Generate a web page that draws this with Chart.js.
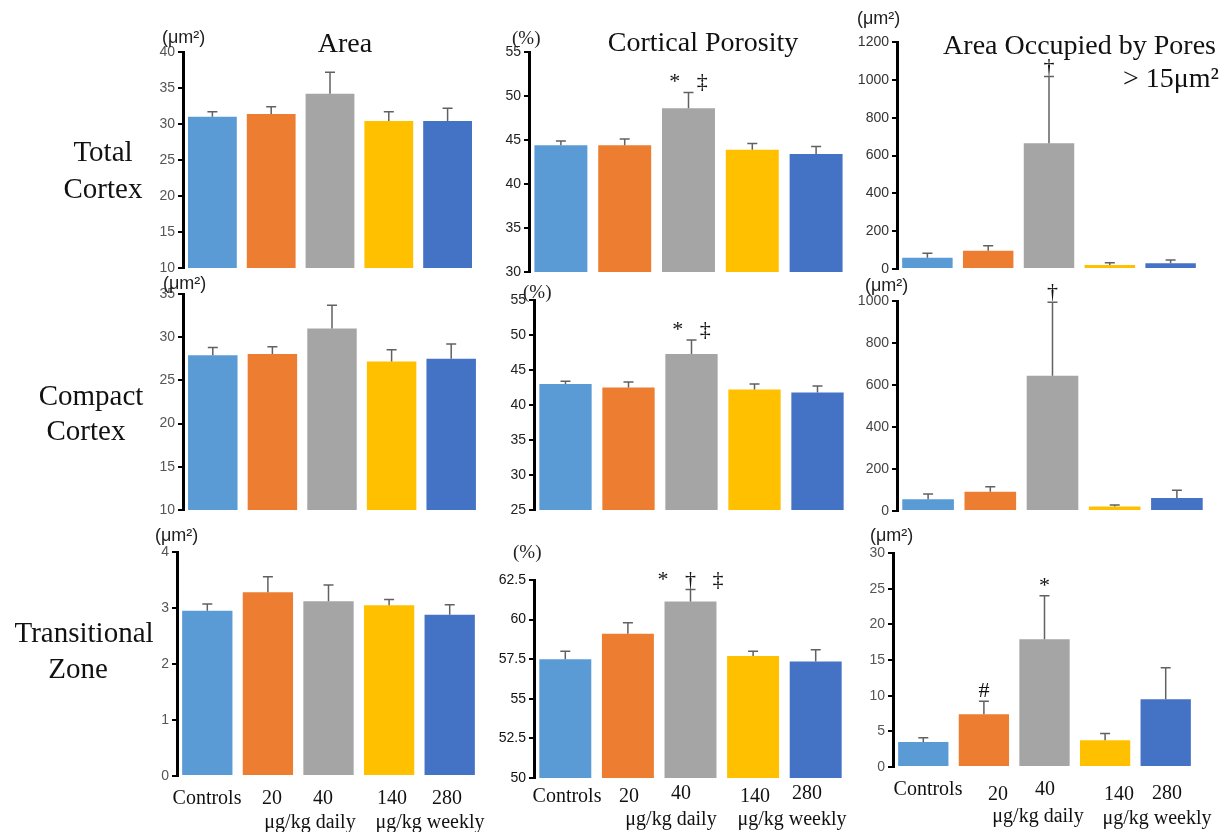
<!DOCTYPE html>
<html lang="en">
<head>
<meta charset="UTF-8">
<title>Cortical bone bar charts</title>
<script src="https://cdn.jsdelivr.net/npm/chart.js@4.4.0/dist/chart.umd.min.js"></script>
<style>
body{margin:0;width:1224px;height:832px;background:#fff;position:relative;overflow:hidden}
canvas{position:absolute}
.t{position:absolute;white-space:nowrap;font-family:"Liberation Serif",serif;color:#111;transform:translate(-50%,-50%)}
.r{position:absolute;white-space:nowrap;font-family:"Liberation Serif",serif;color:#111;transform:translate(-100%,-50%)}
.u{position:absolute;white-space:nowrap;font-family:"Liberation Sans",Arial,sans-serif;font-size:18px;color:#222;transform:translateY(-50%)}
.p{position:absolute;white-space:nowrap;font-family:"Liberation Serif",serif;font-size:19px;color:#222;transform:translateY(-50%)}
</style>
</head>
<body>
<script>
// groups (one bar each)
const groups = ['Controls', '20 µg/kg daily', '40 µg/kg daily', '140 µg/kg weekly', '280 µg/kg weekly'];
const colors = ['#5B9BD5', '#ED7D31', '#A5A5A5', '#FFC000', '#4472C4'];

// Total cortex
const totalArea = [31.0, 31.4, 34.2, 30.4, 30.4];
const totalAreaSD = [0.7, 1.0, 3.0, 1.3, 1.8];
const totalPorosity = [44.4, 44.4, 48.6, 43.9, 43.4];
const totalPorositySD = [0.5, 0.7, 1.8, 0.7, 0.85];
const totalPores = [60, 97, 665, 21, 30];
const totalPoresSD = [23, 26, 352, 12, 17];

// Compact cortex
const compactArea = [27.9, 28.05, 31.0, 27.2, 27.5];
const compactAreaSD = [0.9, 0.85, 2.7, 1.35, 1.7];
const compactPorosity = [43.0, 42.5, 47.3, 42.2, 41.8];
const compactPorositySD = [0.4, 0.8, 2.0, 0.8, 0.9];
const compactPores = [56, 92, 644, 21, 62];
const compactPoresSD = [25, 24, 350, 8, 37];

// Transitional zone
const transArea = [2.95, 3.28, 3.12, 3.05, 2.88];
const transAreaSD = [0.12, 0.28, 0.29, 0.10, 0.18];
const transPorosity = [57.5, 59.1, 61.15, 57.7, 57.35];
const transPorositySD = [0.5, 0.7, 0.75, 0.3, 0.75];
const transPores = [3.5, 7.4, 17.9, 3.75, 9.5];
const transPoresSD = [0.6, 1.8, 6.1, 0.95, 4.4];

// significance marks above bars
const noMarks = ['', '', '', '', ''];
const porosityMarks = ['', '', '*   \u2021', '', ''];
const poresMarks = ['', '', '\u2020', '', ''];
const transPorosityMarks = ['', '', '*   \u2020   \u2021', '', ''];
const transPoresMarks = ['', '#', '*', '', ''];

// y axis ranges [min, max, step]
const areaTicks = [10, 40, 5];
const porosityTicks = [30, 55, 5];
const poresTicks = [0, 1200, 200];
const compactAreaTicks = [10, 35, 5];
const compactPorosityTicks = [25, 55, 5];
const compactPoresTicks = [0, 1000, 200];
const transAreaTicks = [0, 4, 1];
const transPorosityTicks = [50, 62.5, 2.5];
const transPoresTicks = [0, 30, 5];

const panels = [
  {vals: totalArea, sd: totalAreaSD, marks: noMarks, t: areaTicks, ax: 183, top: 52, bot: 268, right: 477, tc: '#555'},
  {vals: totalPorosity, sd: totalPorositySD, marks: porosityMarks, t: porosityTicks, ax: 529, top: 52, bot: 272, right: 848, tc: '#222'},
  {vals: totalPores, sd: totalPoresSD, marks: poresMarks, t: poresTicks, ax: 897, top: 42, bot: 269, right: 1201, tc: '#333'},
  {vals: compactArea, sd: compactAreaSD, marks: noMarks, t: compactAreaTicks, ax: 183, top: 294, bot: 510, right: 481, tc: '#555'},
  {vals: compactPorosity, sd: compactPorositySD, marks: porosityMarks, t: compactPorosityTicks, ax: 534, top: 300, bot: 510, right: 849, tc: '#222'},
  {vals: compactPores, sd: compactPoresSD, marks: poresMarks, t: compactPoresTicks, ax: 897, top: 301, bot: 511, right: 1208, tc: '#444'},
  {vals: transArea, sd: transAreaSD, marks: noMarks, t: transAreaTicks, ax: 177, top: 552, bot: 776, right: 480, tc: '#555'},
  {vals: transPorosity, sd: transPorositySD, marks: transPorosityMarks, t: transPorosityTicks, ax: 534, top: 580, bot: 778, right: 847, tc: '#111'},
  {vals: transPores, sd: transPoresSD, marks: transPoresMarks, t: transPoresTicks, ax: 893, top: 553, bot: 767, right: 1196, tc: '#555'}
];

// error bars + marks, drawn through the y scale
const errorBars = {
  id: 'errorBars',
  afterDatasetsDraw(chart, args, opts) {
    const ctx = chart.ctx, y = chart.scales.y, meta = chart.getDatasetMeta(0);
    const vals = chart.data.datasets[0].data;
    ctx.save();
    meta.data.forEach((bar, i) => {
      const yTop = y.getPixelForValue(vals[i] + opts.sd[i]);
      ctx.strokeStyle = '#616161';
      ctx.lineWidth = 1.5;
      ctx.beginPath();
      ctx.moveTo(bar.x, bar.y);
      ctx.lineTo(bar.x, yTop);
      ctx.moveTo(bar.x - 5, yTop);
      ctx.lineTo(bar.x + 5, yTop);
      ctx.stroke();
      if (opts.marks[i]) {
        ctx.fillStyle = '#111';
        ctx.font = '22px "Liberation Serif"';
        ctx.textAlign = 'center';
        ctx.textBaseline = 'alphabetic';
        ctx.fillText(opts.marks[i], bar.x, yTop - 4);
      }
    });
    ctx.restore();
  }
};

panels.forEach(p => {
  const c = document.createElement('canvas');
  const L = p.ax - 60, T = p.top - 30;
  const W = p.right - L + 10, H = p.bot - T + 30;
  c.width = W; c.height = H;
  c.style.left = L + 'px'; c.style.top = T + 'px';
  c.style.width = W + 'px'; c.style.height = H + 'px';
  document.body.appendChild(c);
  new Chart(c, {
    type: 'bar',
    data: {
      labels: groups,
      datasets: [{data: p.vals, backgroundColor: colors, categoryPercentage: 1, barPercentage: 0.83}]
    },
    options: {
      responsive: false,
      animation: false,
      layout: {padding: {left: 16, top: 30, right: 10, bottom: 30}},
      plugins: {legend: {display: false}, tooltip: {enabled: false},
        errorBars: {sd: p.sd, marks: p.marks}},
      scales: {
        x: {display: false},
        y: {
          min: p.t[0], max: p.t[1],
          afterFit(s) { s.width = 44; },
          border: {display: true, color: '#000', width: 3},
          grid: {drawOnChartArea: false, drawTicks: true, tickLength: 5, color: '#000', lineWidth: 2},
          ticks: {stepSize: p.t[2], autoSkip: false, color: p.tc, padding: 3,
            callback: v => String(v),
            font: {family: '"Liberation Sans", Arial, sans-serif', size: 14}}
        }
      }
    },
    plugins: [errorBars]
  });
});

// text layer
function txt(cls, s, x, y, size) {
  const d = document.createElement('div');
  d.className = cls;
  d.innerHTML = s;
  d.style.left = x + 'px'; d.style.top = y + 'px';
  if (size) d.style.fontSize = size + 'px';
  document.body.appendChild(d);
}
// row labels
txt('t', 'Total', 103, 151, 29); txt('t', 'Cortex', 103, 188, 29);
txt('t', 'Compact', 91, 395, 29); txt('t', 'Cortex', 86, 430, 29);
txt('t', 'Transitional', 84, 632, 29); txt('t', 'Zone', 78, 668, 29);
// column titles
txt('t', 'Area', 345, 43, 28);
txt('t', 'Cortical Porosity', 703, 42, 28);
txt('r', 'Area Occupied by Pores', 1216, 45, 28);
txt('r', '&gt; 15\u03bcm\u00b2', 1219, 78, 28);
// units
txt('u', '(\u03bcm\u00b2)', 162, 37); txt('p', '(%)', 512, 38);
txt('u', '(\u03bcm\u00b2)', 857, 18);
txt('u', '(\u03bcm\u00b2)', 163, 283); txt('p', '(%)', 523, 292);
txt('u', '(\u03bcm\u00b2)', 865, 285);
txt('u', '(\u03bcm\u00b2)', 155, 535); txt('p', '(%)', 513, 552);
txt('u', '(\u03bcm\u00b2)', 870, 535);
// x labels, bottom row
txt('t', 'Controls', 207, 797, 20); txt('t', '20', 272, 797, 20); txt('t', '40', 323, 797, 20);
txt('t', '140', 392, 797, 20); txt('t', '280', 447, 797, 20);
txt('t', '\u03bcg/kg daily', 310, 821, 20); txt('t', '\u03bcg/kg weekly', 430, 821, 20);
txt('t', 'Controls', 567, 795, 20); txt('t', '20', 629, 795, 20); txt('t', '40', 681, 792, 20);
txt('t', '140', 755, 795, 20); txt('t', '280', 807, 792, 20);
txt('t', '\u03bcg/kg daily', 671, 818, 20); txt('t', '\u03bcg/kg weekly', 792, 818, 20);
txt('t', 'Controls', 928, 788, 20); txt('t', '20', 998, 793, 20); txt('t', '40', 1045, 788, 20);
txt('t', '140', 1119, 793, 20); txt('t', '280', 1167, 792, 20);
txt('t', '\u03bcg/kg daily', 1038, 815, 20); txt('t', '\u03bcg/kg weekly', 1157, 817, 20);
</script>
</body>
</html>
